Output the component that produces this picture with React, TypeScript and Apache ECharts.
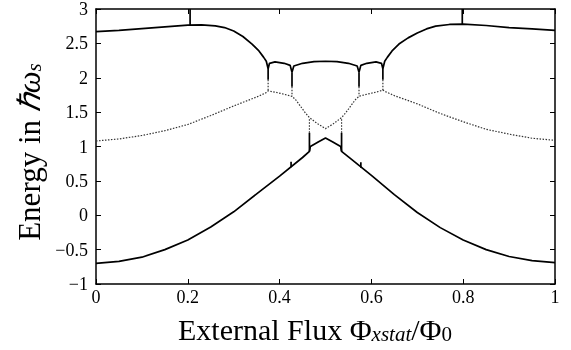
import React, { useEffect, useRef } from "react";
import * as echarts from "echarts";

// x ticks and y ticks
const xTicks = [0, 0.2, 0.4, 0.6, 0.8, 1];
const yTicks = [-1, -0.5, 0, 0.5, 1, 1.5, 2, 2.5, 3];

// lowest level (solid)
const groundCurve: [number, number][] = [
  [0, -0.7], [0.05, -0.67], [0.1, -0.61], [0.15, -0.5], [0.2, -0.36], [0.25, -0.17],
  [0.3, 0.05], [0.35, 0.31], [0.4, 0.57], [0.45, 0.84], [0.465, 0.93],
  [0.467, 1.0], [0.485, 1.07], [0.5, 1.125], [0.515, 1.07], [0.533, 1.0],
  [0.535, 0.93], [0.55, 0.85], [0.6, 0.58], [0.65, 0.3], [0.7, 0.04], [0.75, -0.18],
  [0.8, -0.36], [0.85, -0.5], [0.9, -0.6], [0.95, -0.66], [1, -0.69],
];

// middle level (dotted)
const middleCurve: [number, number][] = [
  [0, 1.08], [0.05, 1.11], [0.1, 1.16], [0.15, 1.23], [0.2, 1.32], [0.25, 1.45],
  [0.3, 1.59], [0.35, 1.72], [0.37, 1.78], [0.375, 1.81], [0.39, 1.79], [0.41, 1.76],
  [0.427, 1.73], [0.435, 1.68], [0.445, 1.59], [0.456, 1.49], [0.465, 1.42],
  [0.483, 1.33], [0.5, 1.26], [0.517, 1.33], [0.535, 1.42], [0.544, 1.49],
  [0.555, 1.59], [0.565, 1.68], [0.573, 1.73], [0.59, 1.76], [0.61, 1.79],
  [0.625, 1.82], [0.63, 1.8], [0.65, 1.74], [0.7, 1.62], [0.75, 1.48], [0.8, 1.36],
  [0.85, 1.25], [0.9, 1.18], [0.95, 1.12], [1, 1.09],
];

// upper level (solid)
const upperCurve: [number, number][] = [
  [0, 2.67], [0.05, 2.69], [0.1, 2.715], [0.15, 2.74], [0.2, 2.765], [0.23, 2.77],
  [0.26, 2.755], [0.28, 2.73], [0.3, 2.68], [0.32, 2.6], [0.34, 2.49], [0.355, 2.39],
  [0.365, 2.3], [0.371, 2.24], [0.375, 2.13], [0.378, 2.21], [0.39, 2.23], [0.41, 2.21],
  [0.423, 2.18], [0.427, 2.08], [0.431, 2.17], [0.45, 2.21], [0.475, 2.235], [0.5, 2.24],
  [0.525, 2.235], [0.55, 2.21], [0.569, 2.17], [0.573, 2.08], [0.577, 2.18], [0.59, 2.21],
  [0.61, 2.23], [0.622, 2.21], [0.625, 2.13], [0.629, 2.24], [0.635, 2.3], [0.645, 2.39],
  [0.66, 2.49], [0.68, 2.58], [0.7, 2.65], [0.72, 2.71], [0.74, 2.75], [0.77, 2.775],
  [0.8, 2.78], [0.85, 2.76], [0.9, 2.73], [0.95, 2.71], [1, 2.69],
];

// vertical connectors [x, yFrom, yTo]
const solidRisers: [number, number, number][] = [
  [0.205, 2.765, 3.0], [0.798, 2.78, 3.0],
  [0.465, 0.93, 1.2], [0.535, 0.93, 1.2],
  [0.375, 2.13, 1.97], [0.427, 2.08, 1.87], [0.573, 2.08, 1.87], [0.625, 2.13, 1.97],
  [0.425, 0.7, 0.78], [0.577, 0.69, 0.77],
];
const dottedRisers: [number, number, number][] = [
  [0.465, 1.2, 1.42], [0.535, 1.2, 1.42],
  [0.375, 1.97, 1.81], [0.427, 1.87, 1.73], [0.573, 1.87, 1.73], [0.625, 1.97, 1.82],
];

const FONT = "Liberation Serif";

export default function App() {
  const ref = useRef<HTMLDivElement>(null);
  useEffect(() => {
    if (!ref.current) return;
    const chart = echarts.init(ref.current, undefined, { renderer: "svg" });
    const solid = { color: "#000", width: 1.7, type: "solid" as const };
    const dotted = { color: "#333", width: 1.2, type: [1.5, 1.5] as any };
    const mk = (data: [number, number][], ls: any) => ({
      type: "line",
      data,
      showSymbol: false,
      symbol: "none",
      lineStyle: ls,
      silent: true,
      z: 3,
    });
    const series: any[] = [
      mk(groundCurve, solid),
      mk(middleCurve, dotted),
      mk(upperCurve, solid),
      ...solidRisers.map((r) => mk([[r[0], r[1]], [r[0], r[2]]], solid)),
      ...dottedRisers.map((r) => mk([[r[0], r[1]], [r[0], r[2]]], dotted)),
    ];
    const axisLine = { show: true, onZero: false, lineStyle: { color: "#000", width: 1.5 } };
    const tick = { show: true, inside: true, length: 5, lineStyle: { color: "#000", width: 1 } };
    const fmtY = (v: number) => (v < 0 ? "\u2212" + Math.abs(v) : String(v));
    chart.setOption({
      animation: false,
      grid: { left: 96, right: 16, top: 7, bottom: 66 },
      xAxis: [
        {
          type: "value", min: xTicks[0], max: xTicks[xTicks.length - 1], interval: 0.2,
          position: "bottom", axisLine, axisTick: tick, splitLine: { show: false },
          axisLabel: { fontFamily: FONT, fontSize: 18, color: "#000", margin: 4, formatter: (v: number) => String(v) },
        },
        {
          type: "value", min: 0, max: 1, interval: 0.2, position: "top",
          axisLine, axisTick: tick, splitLine: { show: false }, axisLabel: { show: false },
        },
      ],
      yAxis: [
        {
          type: "value", min: yTicks[0], max: yTicks[yTicks.length - 1], interval: 0.5,
          position: "left", axisLine, axisTick: tick, splitLine: { show: false },
          axisLabel: { fontFamily: FONT, fontSize: 18, color: "#000", margin: 8, formatter: fmtY },
        },
        {
          type: "value", min: -1, max: 3, interval: 0.5, position: "right",
          axisLine, axisTick: tick, splitLine: { show: false }, axisLabel: { show: false },
        },
      ],
      series,
      graphic: [
        {
          type: "text",
          x: 315,
          y: 329,
          style: {
            text: "External Flux \u03A6{sub|xstat}/\u03A6{sub0|0}",
            fontFamily: FONT,
            fontSize: 30,
            fill: "#000",
            align: "center",
            verticalAlign: "middle",
            rich: {
              sub: { fontFamily: FONT, fontSize: 21, fontStyle: "italic", fill: "#000", verticalAlign: "bottom", padding: [10, 0, 0, 0] },
              sub0: { fontFamily: FONT, fontSize: 21, fill: "#000", verticalAlign: "bottom", padding: [10, 0, 0, 0] },
            },
          },
        },
        {
          type: "text",
          x: 29,
          y: 152,
          rotation: Math.PI / 2,
          style: {
            text: "Energy in {it|\u210F\u03C9}{sub|s}",
            fontFamily: FONT,
            fontSize: 31,
            fill: "#000",
            align: "center",
            verticalAlign: "middle",
            rich: {
              it: { fontFamily: FONT, fontSize: 31, fontStyle: "italic", fill: "#000" },
              sub: { fontFamily: FONT, fontSize: 21, fontStyle: "italic", fill: "#000", verticalAlign: "bottom", padding: [10, 0, 0, 0] },
            },
          },
        },
      ],
    });
    return () => chart.dispose();
  }, []);
  return <div ref={ref} style={{ position: "fixed", left: 0, top: 0, width: 571, height: 350 }} />;
}
